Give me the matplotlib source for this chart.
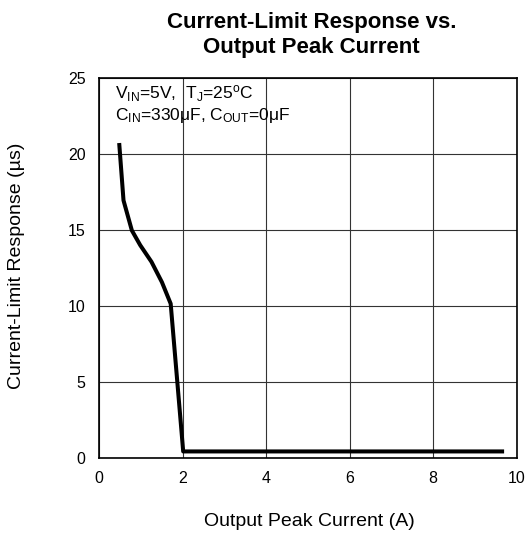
import matplotlib
matplotlib.use("Agg")
import matplotlib.pyplot as plt

plt.rcParams['font.family'] = ['Liberation Sans', 'DejaVu Sans']
plt.rcParams['mathtext.fontset'] = 'custom'
plt.rcParams['mathtext.rm'] = 'Liberation Sans'
plt.rcParams['mathtext.it'] = 'Liberation Sans'

current_a = [0.48, 0.58, 0.78, 0.98, 1.25, 1.50, 1.71, 2.01, 9.65]
response_us = [20.6, 16.95, 14.97, 14.0, 12.9, 11.56, 10.14, 0.4, 0.4]
xticks = [0, 2, 4, 6, 8, 10]
yticks = [0, 5, 10, 15, 20, 25]

W, H = 527, 534
fig = plt.figure(figsize=(W / 100, H / 100), dpi=100)
ax = fig.add_axes([99.3 / W, 1 - 457.5 / H, 417.4 / W, 379.2 / H])
ax.plot(current_a, response_us, color='black', lw=2.9, solid_joinstyle='round')
ax.set_xlim(0, 10)
ax.set_ylim(0, 25)
ax.set_xticks(xticks)
ax.set_yticks(yticks)
ax.grid(True, color='#333333', lw=0.8)
ax.tick_params(labelsize=11.5, length=0, pad=10)
for s in ax.spines.values():
    s.set_linewidth(1.2)

fig.text(309.5 / W, 1 - 526 / H, 'Output Peak Current (A)', ha='center', va='baseline', fontsize=14)
fig.text(17 / W, 1 - 266 / H, 'Current-Limit Response (\u00b5s)', ha='center', va='center',
         rotation=90, fontsize=14)
fig.text(311.5 / W, 1 - 28 / H, 'Current-Limit Response vs.', ha='center', va='baseline',
         fontsize=16, fontweight='bold')
fig.text(311.5 / W, 1 - 53 / H, 'Output Peak Current', ha='center', va='baseline',
         fontsize=16, fontweight='bold')
fig.text(115 / W, 1 - 99 / H,
         r'V$\mathregular{_{IN}}$=5V,  T$\mathregular{_{J}}$=25$\mathregular{^o}$C',
         ha='left', va='baseline', fontsize=12.5)
fig.text(115 / W, 1 - 120 / H,
         r'C$\mathregular{_{IN}}$=330$\mathregular{\mu}$F, C$\mathregular{_{OUT}}$=0$\mathregular{\mu}$F',
         ha='left', va='baseline', fontsize=12.5)
fig.savefig('out.png', dpi=100)
